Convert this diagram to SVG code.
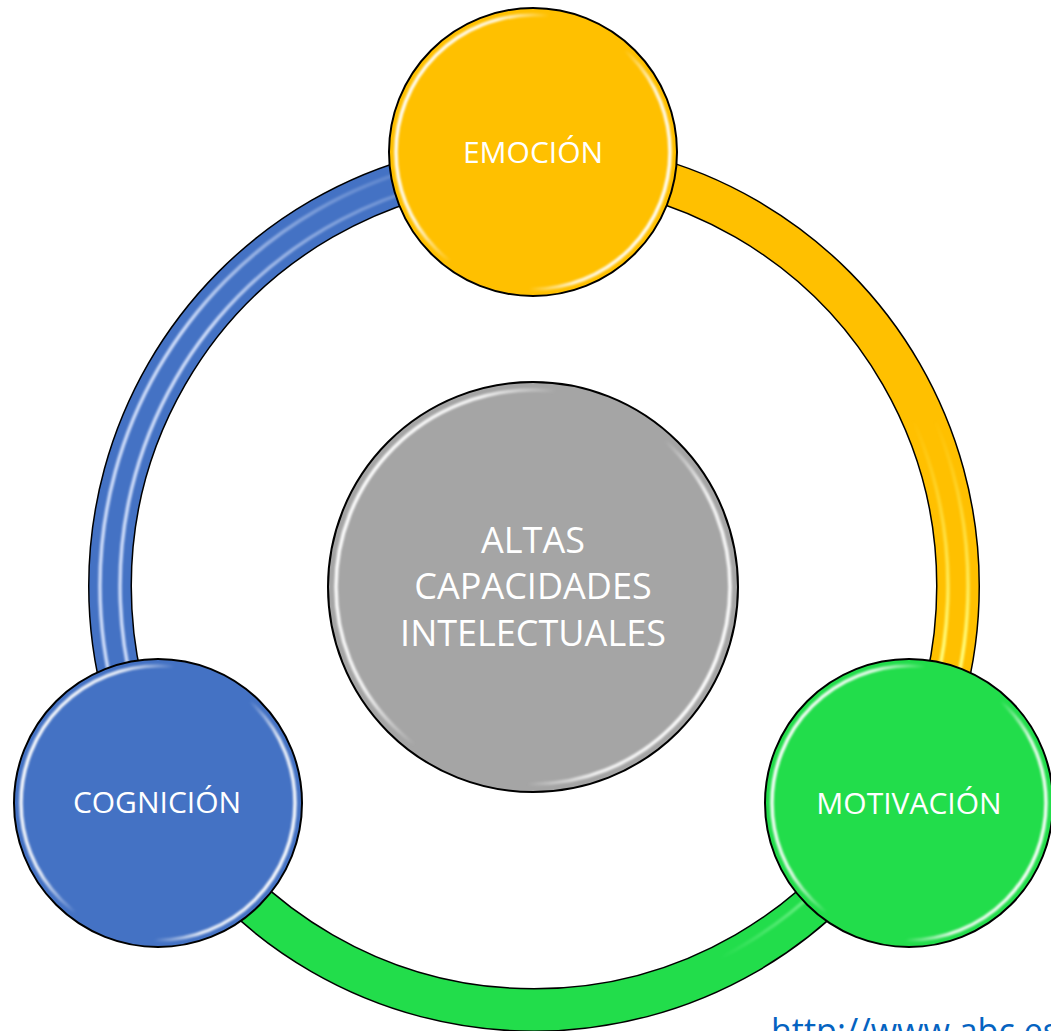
<svg xmlns="http://www.w3.org/2000/svg" width="1051" height="1031" viewBox="0 0 1051 1031">
  <defs>
    <style>
      .label { font-family: "Open Sans", "Liberation Sans", sans-serif; font-size: 30px; fill: #FFFFFF; text-anchor: middle; }
      .label-big { font-family: "Open Sans", "Liberation Sans", sans-serif; font-size: 36px; fill: #FFFFFF; text-anchor: middle; }
      .node { stroke: #000000; stroke-width: 2; }
      .shine { fill: none; stroke: url(#shineGrad); stroke-width: 3.5; filter: url(#soft); }
      .band-outline { fill: none; stroke: #000000; stroke-width: 44; }
      .band { fill: none; stroke-width: 41; }
      .stripe { fill: none; stroke-width: 3.5; filter: url(#soft); }
      .link { font-family: "Open Sans", "Liberation Sans", sans-serif; font-size: 34px; fill: #0563C1; }
    </style>
    <filter id="soft" x="-10%" y="-10%" width="120%" height="120%">
      <feGaussianBlur stdDeviation="1"/>
    </filter>
    <linearGradient id="shineGrad" x1="0" y1="0.3" x2="1" y2="0.7">
      <stop offset="0" stop-color="#FFFFFF" stop-opacity="1"/>
      <stop offset="0.22" stop-color="#FFFFFF" stop-opacity="0.85"/>
      <stop offset="0.38" stop-color="#FFFFFF" stop-opacity="0"/>
      <stop offset="0.66" stop-color="#FFFFFF" stop-opacity="0"/>
      <stop offset="0.8" stop-color="#FFFFFF" stop-opacity="0.85"/>
      <stop offset="1" stop-color="#FFFFFF" stop-opacity="1"/>
    </linearGradient>
    <linearGradient id="blueStripe" gradientUnits="userSpaceOnUse" x1="0" y1="170" x2="0" y2="700">
      <stop offset="0" stop-color="#DDE8FF" stop-opacity="0.15"/>
      <stop offset="0.3" stop-color="#DDE8FF" stop-opacity="0.9"/>
      <stop offset="1" stop-color="#DDE8FF" stop-opacity="0.9"/>
    </linearGradient>
    <linearGradient id="yellowStripe" gradientUnits="userSpaceOnUse" x1="0" y1="420" x2="0" y2="650">
      <stop offset="0" stop-color="#FFFF80" stop-opacity="0"/>
      <stop offset="1" stop-color="#FFFF80" stop-opacity="0.95"/>
    </linearGradient>
    <linearGradient id="greenStripe" gradientUnits="userSpaceOnUse" x1="720" y1="0" x2="850" y2="0">
      <stop offset="0" stop-color="#A0FFB0" stop-opacity="0"/>
      <stop offset="1" stop-color="#A0FFB0" stop-opacity="0.8"/>
    </linearGradient>
  </defs>

  <rect x="0" y="0" width="1051" height="1031" fill="#FFFFFF"/>

  <g id="connectors">
    <!-- Blue arc: COGNICIÓN to EMOCIÓN -->
    <path class="band-outline" d="M 166.8 798 A 424 424 0 0 1 534 162"/>
    <path class="band" stroke="#4472C4" d="M 166.8 798 A 424 424 0 0 1 534 162"/>
    <path class="stripe" stroke="url(#blueStripe)" d="M 175.5 793 A 414 414 0 0 1 534 172"/>
    <path class="stripe" stroke="url(#blueStripe)" d="M 158.1 803 A 434 434 0 0 1 534 152"/>
    <!-- Yellow arc: EMOCIÓN to MOTIVACIÓN -->
    <path class="band-outline" d="M 534 162 A 424 424 0 0 1 901.2 798"/>
    <path class="band" stroke="#FFC000" d="M 534 162 A 424 424 0 0 1 901.2 798"/>
    <path class="stripe" stroke="url(#yellowStripe)" d="M 534 172 A 414 414 0 0 1 892.5 793"/>
    <path class="stripe" stroke="url(#yellowStripe)" d="M 534 152 A 434 434 0 0 1 909.9 803"/>
    <!-- Green arc: MOTIVACIÓN to COGNICIÓN -->
    <path class="band-outline" d="M 901.2 798 A 424 424 0 0 1 166.8 798"/>
    <path class="band" stroke="#22DD4B" d="M 901.2 798 A 424 424 0 0 1 166.8 798"/>
    <path class="stripe" stroke="url(#greenStripe)" d="M 892.5 793 A 414 414 0 0 1 720 958"/>
  </g>

  <g id="node-center">
    <circle class="node" cx="533" cy="587" r="205" fill="#A5A5A5"/>
    <circle class="shine" cx="533" cy="587" r="197"/>
    <text class="label-big" x="533" y="553">ALTAS</text>
    <text class="label-big" x="533" y="599">CAPACIDADES</text>
    <text class="label-big" x="533" y="646">INTELECTUALES</text>
  </g>

  <g id="node-emocion">
    <circle class="node" cx="533" cy="152" r="144" fill="#FFC000"/>
    <circle class="shine" cx="533" cy="152" r="137"/>
    <text class="label" x="533" y="163">EMOCIÓN</text>
  </g>

  <g id="node-cognicion">
    <circle class="node" cx="158" cy="803" r="144" fill="#4472C4"/>
    <circle class="shine" cx="158" cy="803" r="137"/>
    <text class="label" x="157" y="813">COGNICIÓN</text>
  </g>

  <g id="node-motivacion">
    <circle class="node" cx="909" cy="803" r="144" fill="#22DD4B"/>
    <circle class="shine" cx="909" cy="803" r="137"/>
    <text class="label" x="909" y="814">MOTIVACIÓN</text>
  </g>

  <g id="source-link">
    <text class="link" x="771" y="1043">http://www.abc.es</text>
  </g>
</svg>
